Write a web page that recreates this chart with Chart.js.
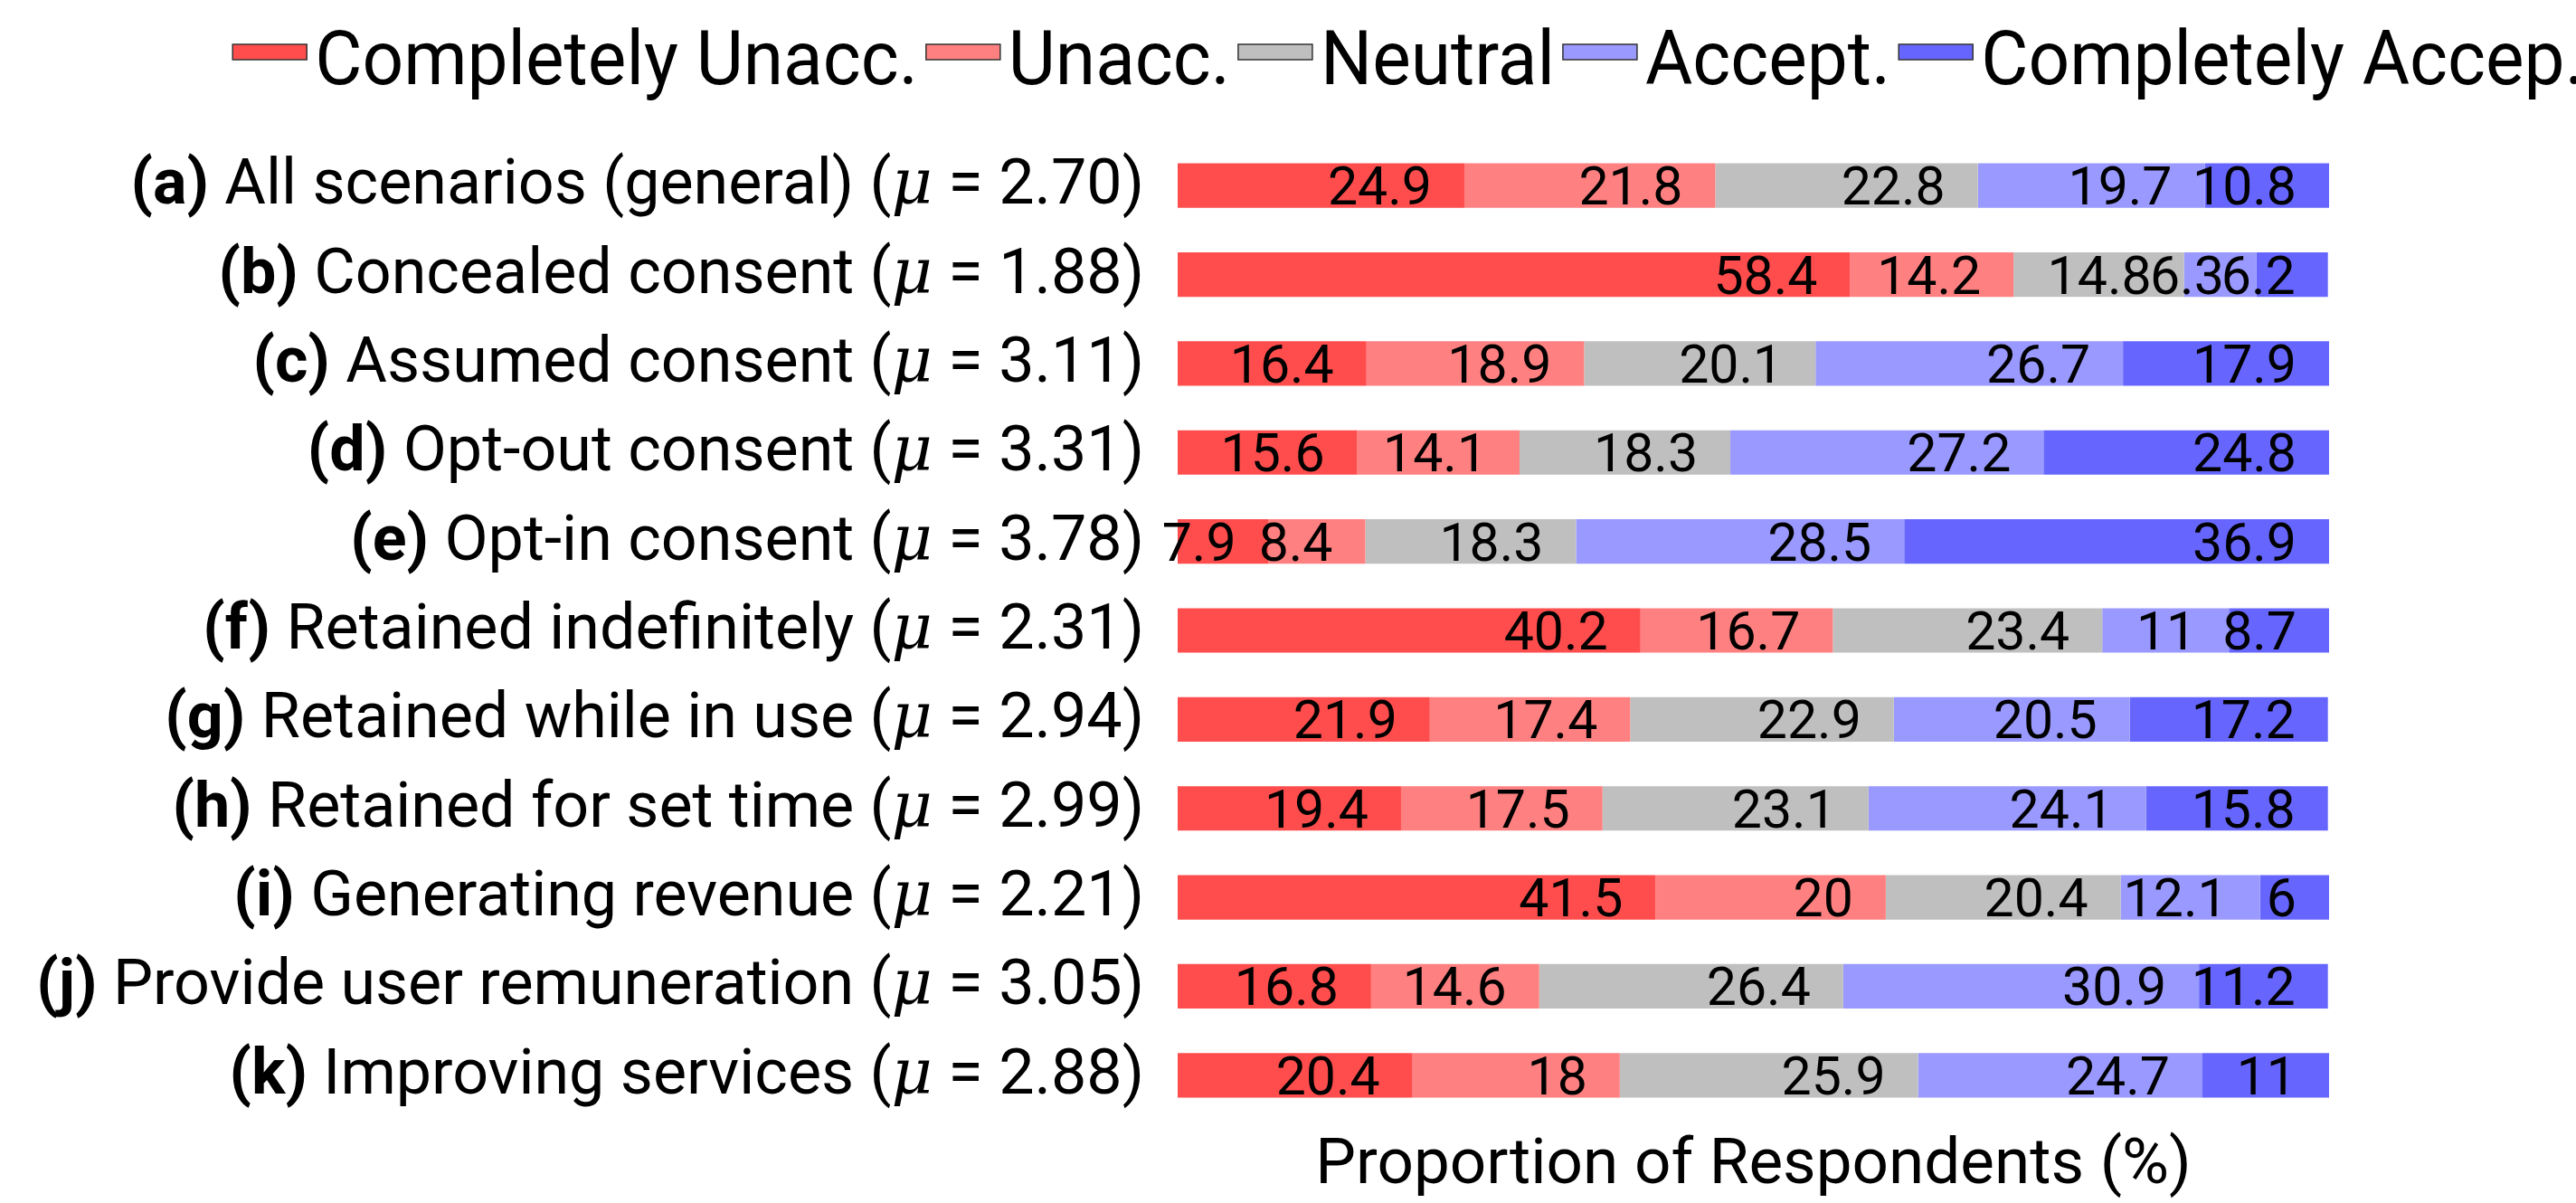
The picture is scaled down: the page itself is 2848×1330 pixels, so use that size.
<!DOCTYPE html>
<html><head><meta charset="utf-8">
<script src="https://cdn.jsdelivr.net/npm/chart.js@4.4.1/dist/chart.umd.min.js"></script>
<style>html,body{margin:0;padding:0;background:#fff;}</style>
</head><body>
<canvas id="c" width="2848" height="1330"></canvas>
<script>
// ---- data ----
const letters = ['a','b','c','d','e','f','g','h','i','j','k'];
const scenarioNames = ['All scenarios (general)','Concealed consent','Assumed consent','Opt-out consent','Opt-in consent','Retained indefinitely','Retained while in use','Retained for set time','Generating revenue','Provide user remuneration','Improving services'];
const meanScores = ['2.70','1.88','3.11','3.31','3.78','2.31','2.94','2.99','2.21','3.05','2.88'];
const seriesNames = ['Completely Unacc.','Unacc.','Neutral','Accept.','Completely Accep.'];
const completelyUnacc = [24.9,58.4,16.4,15.6,7.9,40.2,21.9,19.4,41.5,16.8,20.4];
const unacc           = [21.8,14.2,18.9,14.1,8.4,16.7,17.4,17.5,20,14.6,18];
const neutral         = [22.8,14.8,20.1,18.3,18.3,23.4,22.9,23.1,20.4,26.4,25.9];
const accept          = [19.7,6.3,26.7,27.2,28.5,11,20.5,24.1,12.1,30.9,24.7];
const completelyAccep = [10.8,6.2,17.9,24.8,36.9,8.7,17.2,15.8,6,11.2,11];
const xAxisTitle = 'Proportion of Respondents (%)';

// ---- styles ----
const colors = ['#FF4D4D','#FF8080','#BFBFBF','#9999FF','#6666FF'];
const seriesValues = [completelyUnacc, unacc, neutral, accept, completelyAccep];
const FONT = 'Roboto';

const valueLabels = {
  id: 'valueLabels',
  afterDatasetsDraw(chart) {
    const ctx = chart.ctx;
    ctx.save();
    ctx.font = '59px ' + FONT;
    ctx.fillStyle = '#000';
    ctx.textAlign = 'right';
    ctx.textBaseline = 'alphabetic';
    chart.data.datasets.forEach((ds, di) => {
      const meta = chart.getDatasetMeta(di);
      meta.data.forEach((el, i) => {
        ctx.fillText(String(ds.data[i]), el.x - 36, el.y + 21);
      });
    });
    ctx.restore();
  }
};

const rowLabels = {
  id: 'rowLabels',
  afterDraw(chart) {
    const ctx = chart.ctx;
    const ys = chart.scales.y;
    const rightX = 1265;
    ctx.save();
    ctx.fillStyle = '#000';
    ctx.textBaseline = 'alphabetic';
    ctx.textAlign = 'left';
    chart.data.labels.forEach((lab, i) => {
      const y = ys.getPixelForValue(i) + 20;
      const parts = [
        {t: '(' + letters[i] + ')', f: 'bold 70px ' + FONT},
        {t: ' ' + scenarioNames[i] + ' (', f: '70px ' + FONT},
        {t: 'μ', f: 'italic 70px "DejaVu Serif"'},
        {t: ' = ' + meanScores[i] + ')', f: '70px ' + FONT}
      ];
      let total = 0;
      parts.forEach(p => { ctx.font = p.f; p.w = ctx.measureText(p.t).width; total += p.w; });
      let x = rightX - total;
      parts.forEach(p => { ctx.font = p.f; ctx.fillText(p.t, x, y); x += p.w; });
    });
    ctx.restore();
  }
};

const legendPlugin = {
  id: 'customLegend',
  afterDraw(chart) {
    const ctx = chart.ctx;
    ctx.save();
    ctx.font = '84px ' + FONT;
    const sx = 0.955;
    const boxW = 82, boxH = 17, gap = 9;
    const items = chart.data.datasets.map(ds => ({t: ds.label, c: ds.backgroundColor, w: ctx.measureText(ds.label).width * sx}));
    let total = 0;
    items.forEach((it, k) => { total += boxW + gap + it.w + (k < items.length - 1 ? gap : 0); });
    let x = 1557 - total / 2;
    ctx.textBaseline = 'alphabetic';
    ctx.textAlign = 'left';
    items.forEach(it => {
      ctx.fillStyle = it.c;
      ctx.fillRect(x, 49, boxW, boxH);
      ctx.strokeStyle = '#333';
      ctx.lineWidth = 1.5;
      ctx.strokeRect(x, 49, boxW, boxH);
      x += boxW + gap;
      ctx.fillStyle = '#000';
      ctx.save();
      ctx.translate(x, 93);
      ctx.scale(sx, 1);
      ctx.fillText(it.t, 0, 0);
      ctx.restore();
      x += it.w + gap;
    });
    ctx.restore();
  }
};

new Chart(document.getElementById('c'), {
  type: 'bar',
  data: {
    labels: letters,
    datasets: seriesNames.map((n, k) => ({
      label: n,
      data: seriesValues[k],
      backgroundColor: colors[k],
      borderWidth: 0,
      categoryPercentage: 0.5,
      barPercentage: 1.0
    }))
  },
  options: {
    indexAxis: 'y',
    responsive: false,
    animation: false,
    devicePixelRatio: 1,
    layout: {padding: {left: 1302, right: 273, top: 156, bottom: 4}},
    plugins: {legend: {display: false}, tooltip: {enabled: false}},
    scales: {
      x: {
        stacked: true, min: 0, max: 100,
        ticks: {display: false},
        grid: {display: false, drawTicks: false},
        border: {display: false},
        title: {display: true, text: xAxisTitle, color: '#000',
                font: {family: FONT, size: 71, lineHeight: 1}, padding: {top: 17, bottom: 0}}
      },
      y: {stacked: true, display: false}
    }
  },
  plugins: [valueLabels, rowLabels, legendPlugin]
});
</script>
</body></html>
